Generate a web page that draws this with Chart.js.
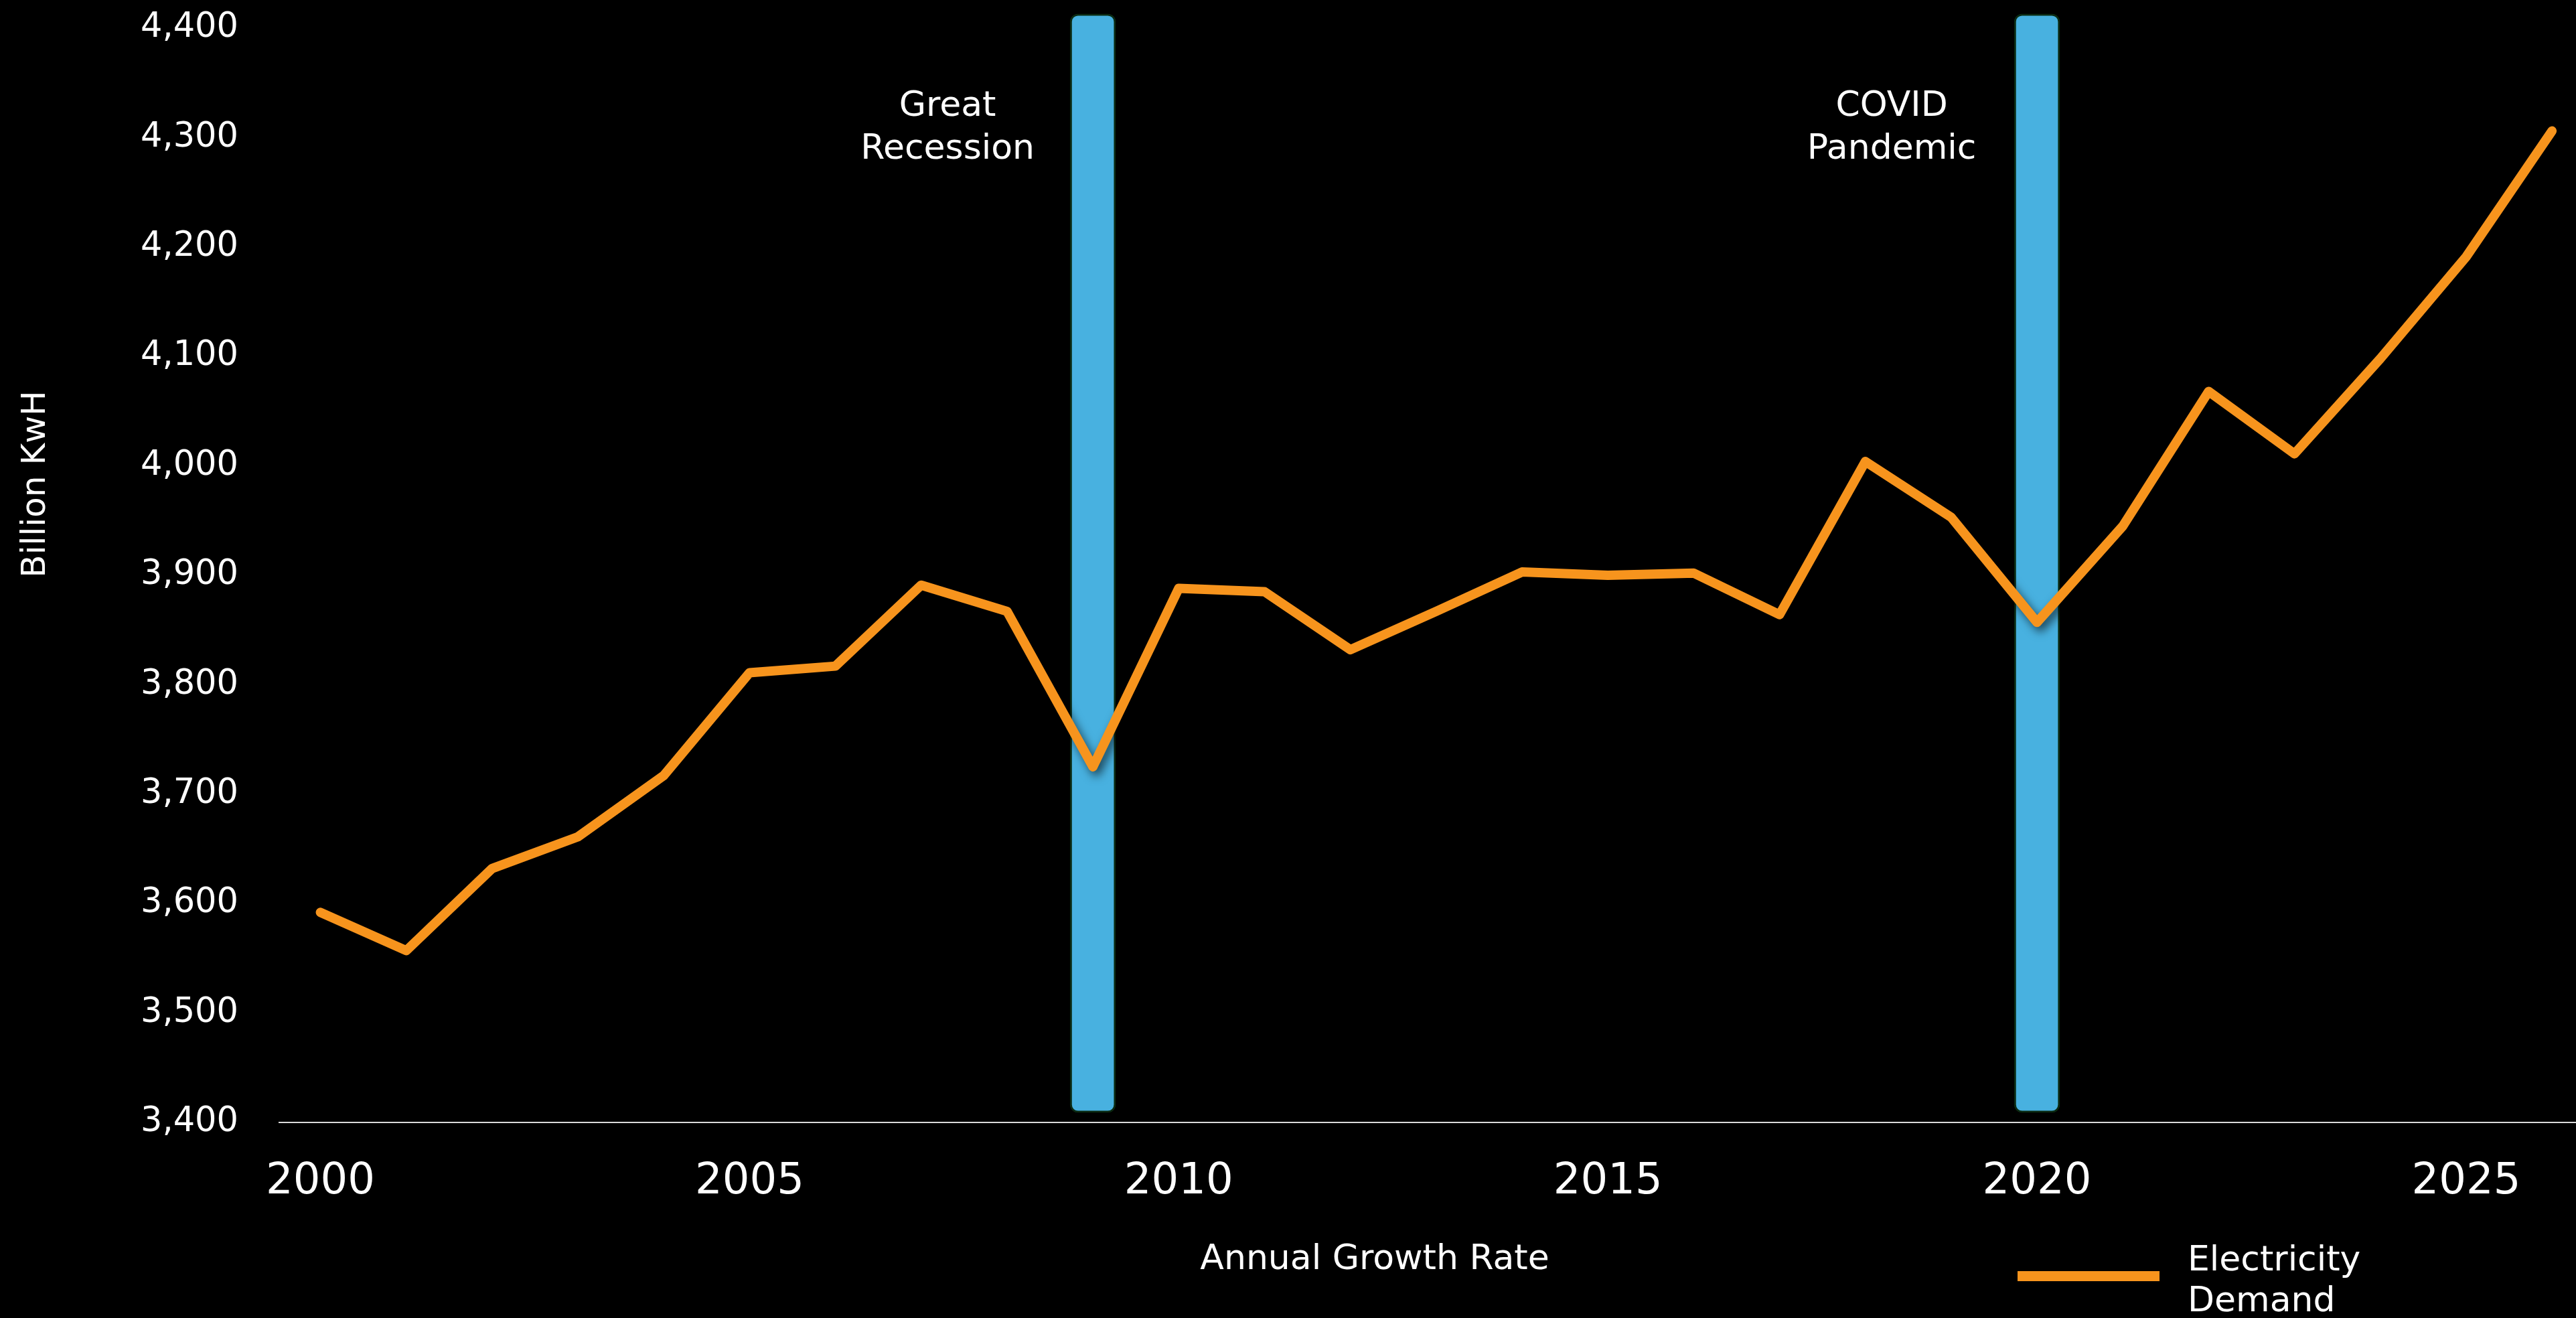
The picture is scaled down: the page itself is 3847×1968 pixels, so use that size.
<!DOCTYPE html>
<html>
<head>
<meta charset="utf-8">
<script src="https://cdn.jsdelivr.net/npm/chart.js@4.4.1/dist/chart.umd.min.js"></script>
<style>
  html, body { margin: 0; padding: 0; background: #000; }
  #wrap { width: 3847px; height: 1968px; }
</style>
</head>
<body>
<div id="wrap"><canvas id="grafico"></canvas></div>
<script>
// dados
const anos = [2000, 2001, 2002, 2003, 2004, 2005, 2006, 2007, 2008, 2009, 2010, 2011, 2012, 2013,
  2014, 2015, 2016, 2017, 2018, 2019, 2020, 2021, 2022, 2023, 2024, 2025, 2026];
const demanda = [3592, 3557, 3632, 3661, 3717, 3811, 3817, 3891, 3867, 3725, 3888, 3885, 3832, 3867,
  3903, 3900, 3902, 3864, 4004, 3953, 3857, 3945, 4068, 4011, 4098, 4191, 4306];

const eventosAnos = [2009, 2020];
const eventosBase = [3409, 3409];
const eventosTopo = [4413, 4413];
const eventosTextos = [["Great", "Recession"], ["COVID", "Pandemic"]];

const ticksAnos = [2000, 2005, 2010, 2015, 2020, 2025];

const FONTE = "'DejaVu Sans', sans-serif";
const BRANCO = "#ffffff";
const LARANJA = "#f7941d";

// textos soltos, legenda e sombra da linha
const textos = {
  id: "textos",
  beforeDatasetDraw(chart, args) {
    if (args.index === 0) {
      const ctx = chart.ctx;
      ctx.save();
      ctx.shadowColor = "rgba(0,0,0,0.6)";
      ctx.shadowBlur = 14;
      ctx.shadowOffsetX = 5;
      ctx.shadowOffsetY = 7;
    }
  },
  afterDatasetDraw(chart, args) {
    if (args.index === 0) chart.ctx.restore();
  },
  afterDraw(chart) {
    const ctx = chart.ctx;
    const x = chart.scales.x;
    ctx.save();
    ctx.fillStyle = BRANCO;

    // rótulos dos eventos
    ctx.font = "52px " + FONTE;
    ctx.textAlign = "center";
    ctx.textBaseline = "alphabetic";
    eventosAnos.forEach((ano, i) => {
      const px = x.getPixelForValue(ano) - 217;
      eventosTextos[i].forEach((linha, j) => ctx.fillText(linha, px, 173 + j * 64));
    });

    // título do eixo x
    ctx.font = "52px " + FONTE;
    ctx.fillText("Annual Growth Rate", 2053, 1895);

    // título do eixo y
    ctx.save();
    ctx.translate(54, 723);
    ctx.rotate(-Math.PI / 2);
    ctx.textBaseline = "middle";
    ctx.font = "50px " + FONTE;
    ctx.fillText("Billion KwH", 0, 0);
    ctx.restore();

    // legenda
    const ds = chart.data.datasets[0];
    ctx.fillStyle = ds.borderColor;
    ctx.fillRect(3013, 1898, 212, 15);
    ctx.fillStyle = BRANCO;
    ctx.textAlign = "left";
    ctx.font = "52px " + FONTE;
    ds.label.forEach((linha, j) => ctx.fillText(linha, 3267, 1897 + j * 61));

    ctx.restore();
  }
};

const ctx = document.getElementById("grafico").getContext("2d");
const grafico = new Chart(ctx, {
  data: {
    datasets: [
      {
        type: "line",
        label: ["Electricity", "Demand"],
        data: anos.map((a, i) => ({ x: a, y: demanda[i] })),
        borderColor: LARANJA,
        borderWidth: 14,
        borderJoinStyle: "round",
        borderCapStyle: "round",
        pointRadius: 0,
        tension: 0,
        order: 0
      },
      {
        type: "bar",
        label: "Eventos",
        data: eventosAnos.map((a, i) => ({ x: a, y: [eventosBase[i], eventosTopo[i]] })),
        backgroundColor: "#48b1e0",
        borderColor: "#0b2a12",
        borderWidth: 3,
        borderRadius: 12,
        borderSkipped: false,
        barThickness: 68,
        clip: false,
        order: 1
      }
    ]
  },
  options: {
    responsive: true,
    maintainAspectRatio: false,
    animation: false,
    layout: { padding: { top: 42, right: 0, left: 0, bottom: 0 } },
    plugins: {
      legend: { display: false },
      tooltip: { enabled: false }
    },
    scales: {
      x: {
        type: "linear",
        offset: false,
        min: 1999.52,
        max: 2026.28,
        afterBuildTicks: (scale) => { scale.ticks = ticksAnos.map(v => ({ value: v })); },
        afterFit: (scale) => { scale.height = 292; },
        grid: { display: false, offset: false },
        border: { display: true, color: "#d9d9d9", width: 2 },
        ticks: {
          color: BRANCO,
          font: { family: FONTE, size: 64 },
          padding: 43,
          maxRotation: 0,
          autoSkip: false,
          callback: (v) => String(v)
        }
      },
      y: {
        min: 3400,
        max: 4400,
        afterFit: (scale) => {
          scale.width = 417;
          scale.paddingTop = 0;
          scale.paddingBottom = 0;
        },
        grid: { display: false },
        border: { display: false },
        ticks: {
          stepSize: 100,
          color: BRANCO,
          font: { family: FONTE, size: 51 },
          padding: 53
        }
      }
    }
  },
  plugins: [textos]
});
</script>
</body>
</html>
